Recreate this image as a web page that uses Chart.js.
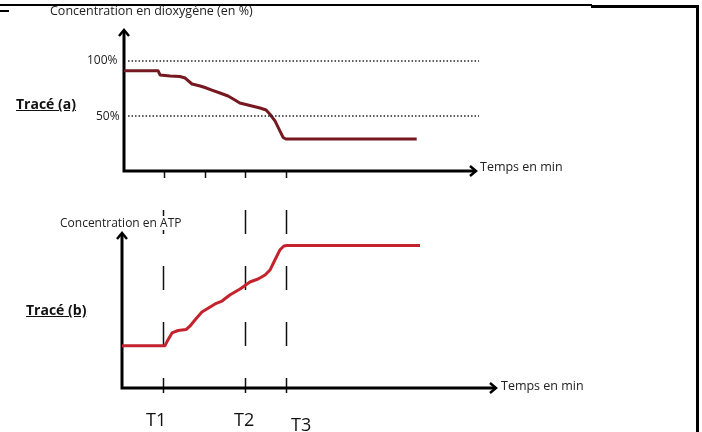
<!DOCTYPE html>
<html>
<head>
<meta charset="utf-8">
<script src="https://cdn.jsdelivr.net/npm/chart.js@4"></script>
<style>
  html, body { margin: 0; padding: 0; background: #fff; }
  #page { position: relative; width: 702px; height: 432px; overflow: hidden; font-family: 'Open Sans', sans-serif; color: #222; }
  .layer { position: absolute; left: 0; top: 0; }
  .txt { position: absolute; white-space: nowrap; line-height: 1; }
  .trace { font-weight: 700; text-decoration: underline; font-size: 14px; color: #111; }
  .big { font-size: 18px; color: #111; }
  .rule { position: absolute; background: #000; }
</style>
</head>
<body>
<div id="page">
  <div class="rule" style="left:0;top:4px;width:592px;height:1.5px"></div>
  <div class="rule" style="left:591px;top:5px;width:107px;height:2.5px"></div>
  <div class="rule" style="left:696px;top:5px;width:2.5px;height:427px"></div>
  <div class="rule" style="left:0;top:10px;width:9px;height:2px"></div>

  <canvas id="chartA" class="layer" width="702" height="432"></canvas>
  <canvas id="chartB" class="layer" width="702" height="432"></canvas>

  <div class="txt" style="left:50px;top:5px;font-size:12.5px">Concentration en dioxygène (en %)</div>
  <div class="txt" style="left:87px;top:54px;font-size:12px">100%</div>
  <div class="txt" style="left:96px;top:110px;font-size:12px">50%</div>
  <div class="txt trace" style="left:16px;top:97px">Tracé (a)</div>
  <div class="txt" style="left:480px;top:161px;font-size:12.5px">Temps en min</div>

  <div class="txt" style="left:60px;top:216px;font-size:12px;background:#fff;padding:1px 0">Concentration en ATP</div>
  <div class="txt trace" style="left:26px;top:303px">Tracé (b)</div>
  <div class="txt" style="left:501px;top:380px;font-size:12.5px">Temps en min</div>

  <div class="txt big" style="left:146px;top:410px">T1</div>
  <div class="txt big" style="left:234px;top:410px">T2</div>
  <div class="txt big" style="left:291px;top:415px">T3</div>
</div>
<script>
// Tracé (a) : dioxygène (%) en fonction du temps (unités de graduation)
const timeA = [0, 0.84, 0.89, 1.14, 1.38, 1.51, 1.68, 1.88, 2.0, 2.17, 2.37, 2.57, 2.74, 2.86, 3.11, 3.36, 3.51, 3.6, 3.73, 3.85, 3.93, 4.0, 7.23];
const o2    = [91.2, 91.2, 87.3, 86.4, 85.9, 84.5, 79.1, 77.3, 75.9, 73.6, 70.9, 68.2, 64.5, 61.8, 59.5, 57.3, 55.5, 51.8, 45.5, 36.4, 30.5, 29.1, 29.1];
const o2Refs = [100, 50];
const tickTimesA = [1, 2, 3, 4];

// Tracé (b) : ATP (unités arbitraires)
const timeB = [0, 1.05, 1.12, 1.22, 1.37, 1.56, 1.66, 1.8, 1.95, 2.07, 2.27, 2.44, 2.63, 2.88, 3.12, 3.32, 3.49, 3.61, 3.73, 3.85, 3.95, 4.02, 7.27];
const atp   = [27.3, 27.3, 31, 35.5, 37.1, 37.7, 40, 44.5, 49, 51, 54.2, 56.1, 60, 63.9, 68.4, 70.3, 72.9, 76.1, 82.6, 89, 91.6, 91.9, 91.9];
const markTimes = [1, 3, 4];

const toXY = (xs, ys) => xs.map((x, i) => ({ x, y: ys[i] }));

// axes with arrow heads, small ticks and dashed time markers
const axesArrows = {
  id: 'axesArrows',
  beforeDatasetsDraw(chart, args, opts) {
    const { ctx, chartArea: a, scales } = chart;
    ctx.save();
    ctx.strokeStyle = '#111';
    if (opts.dashes) {
      ctx.lineWidth = 1.5;
      ctx.setLineDash([24, 32]);
      opts.dashes.forEach(t => {
        const px = Math.round(scales.x.getPixelForValue(t)) + 0.5;
        ctx.beginPath();
        ctx.moveTo(px, a.top - 23);
        ctx.lineTo(px, a.bottom + 5);
        ctx.stroke();
      });
      ctx.setLineDash([]);
    }
    if (opts.ticks) {
      ctx.lineWidth = 1.5;
      opts.ticks.forEach(t => {
        const px = Math.round(scales.x.getPixelForValue(t)) + 0.5;
        ctx.beginPath();
        ctx.moveTo(px, a.bottom);
        ctx.lineTo(px, a.bottom + 7);
        ctx.stroke();
      });
    }
    ctx.strokeStyle = '#000';
    ctx.lineWidth = 3;
    ctx.beginPath();
    ctx.moveTo(a.left, a.top + 1);
    ctx.lineTo(a.left, a.bottom);
    ctx.lineTo(a.right, a.bottom);
    ctx.stroke();
    ctx.lineWidth = 2.5;
    ctx.beginPath();
    ctx.moveTo(a.left - 5, a.top + 6); ctx.lineTo(a.left, a.top); ctx.lineTo(a.left + 5, a.top + 6);
    ctx.moveTo(a.right - 5, a.bottom - 5); ctx.lineTo(a.right + 1, a.bottom); ctx.lineTo(a.right - 5, a.bottom + 5);
    ctx.stroke();
    ctx.restore();
  },
};

const baseOptions = (pad, xMax, yMax, pluginOpts) => ({
  responsive: false,
  animation: false,
  layout: { padding: pad },
  plugins: { legend: { display: false }, tooltip: { enabled: false }, axesArrows: pluginOpts },
  scales: {
    x: { type: 'linear', display: false, min: 0, max: xMax },
    y: { type: 'linear', display: false, min: 0, max: yMax },
  },
  elements: { point: { radius: 0 }, line: { tension: 0, borderJoinStyle: 'round', borderCapStyle: 'butt' } },
});

new Chart(document.getElementById('chartA'), {
  type: 'line',
  data: {
    datasets: [
      ...o2Refs.map(v => ({
        data: [{ x: 0.1, y: v }, { x: 8.77, y: v }],
        borderColor: '#222', borderWidth: 1.5, borderDash: [1.5, 2], clip: false,
      })),
      { data: toXY(timeA, o2), borderColor: '#761820', borderWidth: 3 },
    ],
  },
  options: baseOptions({ left: 124, right: 227, top: 30, bottom: 261 }, 8.67, 128.2, { ticks: tickTimesA }),
  plugins: [axesArrows],
});

new Chart(document.getElementById('chartB'), {
  type: 'line',
  data: {
    datasets: [
      { data: toXY(timeB, atp), borderColor: '#c4222c', borderWidth: 3, clip: false },
    ],
  },
  options: baseOptions({ left: 122, right: 207, top: 233, bottom: 44 }, 9.1, 100, { dashes: markTimes }),
  plugins: [axesArrows],
});
</script>
</body>
</html>
